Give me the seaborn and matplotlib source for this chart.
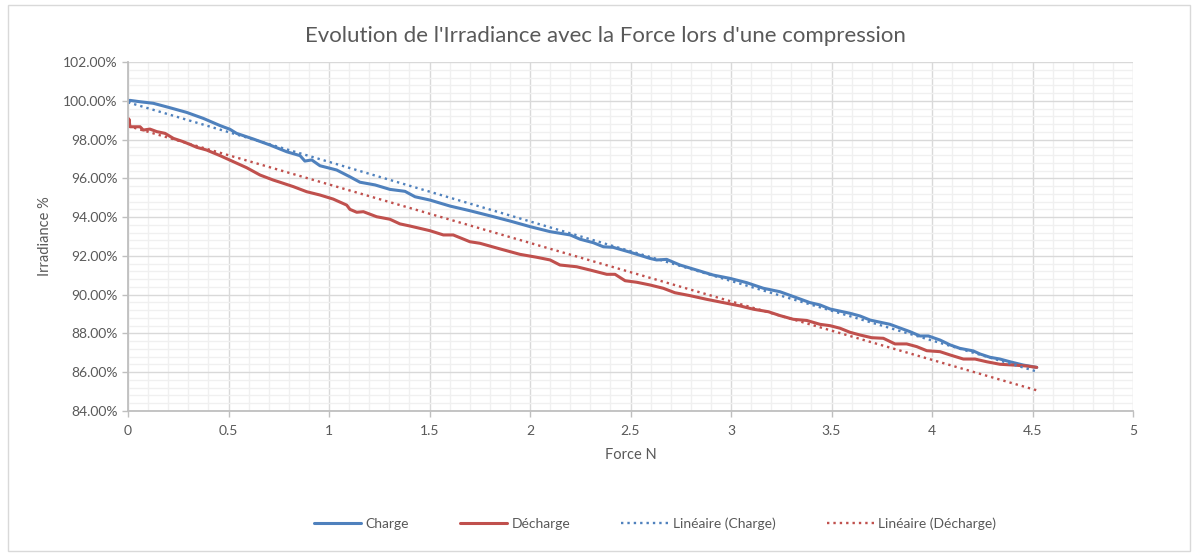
import matplotlib
matplotlib.use("Agg")
import matplotlib.pyplot as plt
import matplotlib.patches as patches
from matplotlib.ticker import MultipleLocator, FuncFormatter
import pandas as pd
import seaborn as sns

# Data (force in N, irradiance in %)
charge_force = [0.0, 0.005, 0.01, 0.06, 0.126, 0.209, 0.292, 0.375, 0.458, 0.507,
                0.54, 0.623, 0.706, 0.79, 0.856, 0.88, 0.914, 0.955, 1.038, 1.104,
                1.154, 1.229, 1.303, 1.378, 1.428, 1.502, 1.602, 1.701, 1.8, 1.9,
                2.0, 2.1, 2.2, 2.249, 2.315, 2.365, 2.414, 2.498, 2.597, 2.63,
                2.68, 2.746, 2.829, 2.912, 2.995, 3.078, 3.161, 3.244, 3.327, 3.393,
                3.443, 3.493, 3.592, 3.642, 3.692, 3.791, 3.891, 3.94, 3.982, 4.04,
                4.09, 4.139, 4.205, 4.239, 4.289, 4.338, 4.388, 4.454, 4.521]
charge_irr = [100.05, 99.95, 100.02, 99.95, 99.87, 99.64, 99.40, 99.09, 98.72, 98.53,
              98.32, 98.03, 97.72, 97.37, 97.17, 96.89, 96.95, 96.65, 96.43, 96.08,
              95.80, 95.66, 95.43, 95.33, 95.05, 94.88, 94.57, 94.33, 94.07, 93.80,
              93.51, 93.25, 93.08, 92.86, 92.68, 92.47, 92.44, 92.19, 91.87, 91.79,
              91.82, 91.53, 91.27, 91.01, 90.84, 90.62, 90.33, 90.15, 89.84, 89.59,
              89.47, 89.26, 89.04, 88.90, 88.69, 88.47, 88.09, 87.87, 87.87, 87.66,
              87.41, 87.23, 87.10, 86.94, 86.77, 86.68, 86.54, 86.37, 86.25]

decharge_force = [0.0, 0.0, 0.003, 0.005, 0.008, 0.01, 0.06, 0.076, 0.109, 0.143, 0.184,
                  0.226, 0.275, 0.308, 0.342, 0.391, 0.458, 0.524, 0.59, 0.657, 0.723,
                  0.756, 0.823, 0.889, 0.955, 1.021, 1.088, 1.104, 1.138, 1.171, 1.237,
                  1.303, 1.353, 1.403, 1.502, 1.569, 1.618, 1.701, 1.751, 1.851, 1.95,
                  2.033, 2.1, 2.149, 2.232, 2.299, 2.382, 2.423, 2.473, 2.531, 2.597,
                  2.663, 2.721, 2.796, 2.879, 2.962, 3.045, 3.111, 3.186, 3.244, 3.31,
                  3.377, 3.443, 3.493, 3.542, 3.592, 3.642, 3.7, 3.758, 3.816, 3.874,
                  3.924, 3.974, 4.04, 4.09, 4.156, 4.214, 4.272, 4.338, 4.405, 4.471,
                  4.521]
decharge_irr = [98.75, 99.10, 98.85, 99.05, 98.80, 98.66, 98.66, 98.49, 98.54, 98.41, 98.32,
                98.06, 97.89, 97.75, 97.60, 97.46, 97.17, 96.86, 96.55, 96.17, 95.91,
                95.80, 95.57, 95.31, 95.14, 94.93, 94.62, 94.40, 94.25, 94.28, 94.02,
                93.89, 93.65, 93.54, 93.30, 93.08, 93.08, 92.73, 92.65, 92.36, 92.08,
                91.93, 91.79, 91.53, 91.44, 91.27, 91.05, 91.05, 90.72, 90.64, 90.50,
                90.33, 90.10, 89.95, 89.76, 89.59, 89.42, 89.25, 89.12, 88.92, 88.73,
                88.67, 88.47, 88.40, 88.27, 88.06, 87.92, 87.78, 87.75, 87.46, 87.46,
                87.32, 87.11, 87.06, 86.89, 86.68, 86.68, 86.54, 86.41, 86.37, 86.32,
                86.25]

# Excel linear trendlines (end points)
trend_force = [0.0, 4.52]
charge_trend = [99.92, 86.04]
decharge_trend = [98.70, 85.07]

blue = "#4F81BD"
red = "#C0504D"
text_col = "#595959"

sns.set_theme(style="white")
plt.rcParams['font.family'] = ['Lato', 'DejaVu Sans']

fig = plt.figure(figsize=(11.96, 5.56), dpi=100)
ax = fig.add_axes([128/1196, 1-411/556, (1133-128)/1196, (411-62)/556])

df_c = pd.DataFrame({'force': charge_force, 'irr': charge_irr})
df_d = pd.DataFrame({'force': decharge_force, 'irr': decharge_irr})

sns.lineplot(data=df_c, x='force', y='irr', ax=ax, color=blue, lw=2.2,
             estimator=None, sort=False, label='Charge')
sns.lineplot(data=df_d, x='force', y='irr', ax=ax, color=red, lw=2.2,
             estimator=None, sort=False, label='Décharge')
sns.lineplot(x=trend_force, y=charge_trend, ax=ax, color=blue, lw=1.7,
             linestyle=(0, (1, 1.7)), label='Linéaire (Charge)')
sns.lineplot(x=trend_force, y=decharge_trend, ax=ax, color=red, lw=1.7,
             linestyle=(0, (1, 1.7)), label='Linéaire (Décharge)')

ax.set_xlim(0, 5)
ax.set_ylim(84, 102)
ax.xaxis.set_major_locator(MultipleLocator(0.5))
ax.xaxis.set_minor_locator(MultipleLocator(0.1))
ax.yaxis.set_major_locator(MultipleLocator(2))
ax.yaxis.set_minor_locator(MultipleLocator(0.4))
ax.xaxis.set_major_formatter(FuncFormatter(lambda v, p: f"{v:g}"))
ax.yaxis.set_major_formatter(FuncFormatter(lambda v, p: f"{v:.2f}%"))

ax.grid(which='major', color='#D9D9D9', lw=1.0)
ax.grid(which='minor', color='#F0F0F0', lw=1.0)
ax.set_axisbelow(True)

for s in ['top', 'right']:
    ax.spines[s].set_visible(False)
for s in ['left', 'bottom']:
    ax.spines[s].set_color('#BFBFBF')
    ax.spines[s].set_linewidth(1.3)

ax.tick_params(which='major', direction='out', length=4, width=1,
               color='#BFBFBF', labelcolor=text_col, labelsize=10,
               left=True, bottom=True)
ax.tick_params(which='minor', length=0)
ax.tick_params(axis='x', pad=6)

ax.set_xlabel('Force N', color=text_col, fontsize=10.5, labelpad=8)
ax.set_ylabel('Irradiance %', color=text_col, fontsize=10.5, labelpad=8)

fig.text(605/1196, 1-36/556, "Evolution de l'Irradiance avec la Force lors d'une compression",
         ha='center', va='center', fontsize=16, color=text_col)

ax.get_legend().remove()
handles, labels = ax.get_legend_handles_labels()
fig.legend(handles, labels, loc='center', bbox_to_anchor=(655/1196, 1-524/556),
           ncol=4, frameon=False, fontsize=10, labelcolor=text_col,
           handlelength=3.4, handletextpad=0.3, columnspacing=3.7)

# chart border
fig.patches.append(patches.Rectangle((8/1196, 5/556), 1182/1196, 546/556,
                                     transform=fig.transFigure, fill=False,
                                     edgecolor='#D9D9D9', lw=1))

fig.savefig('out.png', dpi=100)
